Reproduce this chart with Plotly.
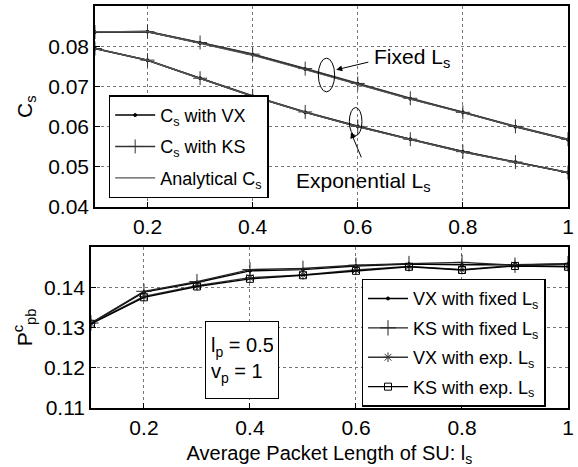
import plotly.graph_objects as go

# ---------------- data ----------------
ls = [0.1, 0.2, 0.3, 0.4, 0.5, 0.6, 0.7, 0.8, 0.9, 1.0]

# top panel: C_s
cs_vx_fixed = [0.0836, 0.0837, 0.0809, 0.0780, 0.0744, 0.0707, 0.0670, 0.0636, 0.0600, 0.0568]
cs_ks_fixed = [0.0836, 0.0837, 0.0810, 0.0781, 0.0745, 0.0708, 0.0671, 0.0636, 0.0601, 0.0569]
cs_an_fixed = [0.0837, 0.0837, 0.0808, 0.0778, 0.0742, 0.0706, 0.0669, 0.0635, 0.0600, 0.0568]
cs_vx_exp = [0.0795, 0.0766, 0.0721, 0.0676, 0.0636, 0.0601, 0.0569, 0.0538, 0.0512, 0.0486]
cs_ks_exp = [0.0795, 0.0766, 0.0721, 0.0677, 0.0637, 0.0601, 0.0569, 0.0538, 0.0512, 0.0486]
cs_an_exp = [0.0795, 0.0766, 0.0720, 0.0676, 0.0636, 0.0600, 0.0568, 0.0537, 0.0511, 0.0486]

# bottom panel: P^c_pb
p_vx_fixed = [0.1310, 0.1388, 0.1412, 0.1441, 0.1444, 0.1453, 0.1458, 0.1456, 0.1456, 0.1458]
p_ks_fixed = [0.1311, 0.1390, 0.1414, 0.1444, 0.1447, 0.1455, 0.1459, 0.1462, 0.1455, 0.1459]
p_vx_exp = [0.1310, 0.1377, 0.1404, 0.1424, 0.1431, 0.1443, 0.1452, 0.1444, 0.1455, 0.1452]
p_ks_exp = [0.1309, 0.1375, 0.1402, 0.1421, 0.1430, 0.1441, 0.1451, 0.1443, 0.1453, 0.1451]

x_tickvals = [0.2, 0.4, 0.6, 0.8, 1.0]
x_ticktext = ["0.2", "0.4", "0.6", "0.8", "1"]
top_tickvals = [0.04, 0.05, 0.06, 0.07, 0.08]
bot_tickvals = [0.11, 0.12, 0.13, 0.14]

FONT = "Liberation Sans, Arial, sans-serif"
TICK = 21

fig = go.Figure()

def add(x, y, name, xa, ya, legend, symbol=None, size=6, color="black", width=1.5,
        show=True, mlw=1, group=None):
    mode = "lines+markers" if symbol else "lines"
    marker = dict(symbol=symbol, size=size, color=color,
                  line=dict(color=color, width=mlw)) if symbol else None
    fig.add_trace(go.Scatter(x=x, y=y, name=name, mode=mode, xaxis=xa, yaxis=ya,
                             line=dict(color=color, width=width), marker=marker,
                             legend=legend, showlegend=show, legendgroup=group))

# top
add(ls, cs_vx_fixed, "C<sub>s</sub> with VX", "x", "y", "legend", "circle", 3, "black", 1.6, group="a")
add(ls, cs_ks_fixed, "C<sub>s</sub> with KS", "x", "y", "legend", "cross-thin", 10, "#333333", 1.6, group="b")
add(ls, cs_an_fixed, "Analytical C<sub>s</sub>", "x", "y", "legend", None, color="#555555", width=1.2, group="c")
add(ls, cs_vx_exp, "", "x", "y", "legend", "circle", 3, "black", 1.6, show=False, group="a")
add(ls, cs_ks_exp, "", "x", "y", "legend", "cross-thin", 10, "#333333", 1.6, show=False, group="b")
add(ls, cs_an_exp, "", "x", "y", "legend", None, color="#555555", width=1.2, show=False, group="c")

# bottom
add(ls, p_vx_fixed, "VX with fixed L<sub>s</sub>", "x2", "y2", "legend2", "circle", 3, "black", 1.4, group="d")
add(ls, p_ks_fixed, "KS with fixed L<sub>s</sub>", "x2", "y2", "legend2", "cross-thin", 11, "#222222", 1.4, group="e")
add(ls, p_vx_exp, "VX with exp. L<sub>s</sub>", "x2", "y2", "legend2", "asterisk-open", 8, "#333333", 1.4, group="f")
add(ls, p_ks_exp, "KS with exp. L<sub>s</sub>", "x2", "y2", "legend2", "square-open", 7, "black", 1.4, group="g")

axis_common = dict(showline=True, linecolor="black", linewidth=1.5, mirror=True,
                   ticks="inside", ticklen=5, tickcolor="black",
                   showgrid=True, gridcolor="#777777", griddash="dot", gridwidth=1,
                   zeroline=False, ticklabeloverflow="allow",
                   tickfont=dict(size=TICK, color="black", family=FONT))

fig.update_layout(
    width=578, height=467,
    margin=dict(l=0, r=0, t=0, b=0),
    paper_bgcolor="white", plot_bgcolor="white",
    font=dict(family=FONT, color="black", size=TICK),
    xaxis=dict(domain=[0.166, 0.993], range=[0.1, 1.0], anchor="y",
               tickvals=x_tickvals, ticktext=x_ticktext, **axis_common),
    yaxis=dict(domain=[0.546, 0.986], range=[0.04, 0.09], anchor="x",
               tickvals=top_tickvals, tickformat=".2f", **axis_common,
               title=dict(text="C<sub>s</sub>", standoff=10, font=dict(size=21))),
    xaxis2=dict(domain=[0.159, 0.993], range=[0.1, 1.0], anchor="y2",
                tickvals=x_tickvals, ticktext=x_ticktext, **axis_common,
                title=dict(text="Average Packet Length of SU: l<sub>s</sub>", standoff=9,
                           font=dict(size=20))),
    yaxis2=dict(domain=[0.106, 0.458], range=[0.11, 0.15], anchor="x2",
                tickvals=bot_tickvals, tickformat=".2f", **axis_common,
                title=dict(text="P<sup>c</sup><sub>pb</sub>", standoff=6, font=dict(size=21))),
    legend=dict(x=0.19, y=0.565, xanchor="left", yanchor="bottom",
                bordercolor="black", borderwidth=1.5, bgcolor="white",
                traceorder="grouped", tracegroupgap=5,
                font=dict(size=18, family=FONT), itemwidth=40),
    legend2=dict(x=0.632, y=0.108, xanchor="left", yanchor="bottom",
                 bordercolor="black", borderwidth=1.5, bgcolor="white",
                 traceorder="grouped", tracegroupgap=3,
                 font=dict(size=18, family=FONT), itemwidth=40),
)

# ellipses
fig.add_shape(type="circle", xref="x", yref="y", x0=0.525, x1=0.556, y0=0.0687, y1=0.0771,
              line=dict(color="black", width=1))
fig.add_shape(type="circle", xref="x", yref="y", x0=0.584, x1=0.608, y0=0.0578, y1=0.0648,
              line=dict(color="black", width=1))

# arrows
fig.add_annotation(xref="x", yref="y", x=0.559, y=0.0742, ax=0.623, ay=0.0762,
                   axref="x", ayref="y", showarrow=True, arrowhead=2, arrowsize=1.2,
                   arrowwidth=1, arrowcolor="black", text="")
fig.add_annotation(xref="x", yref="y", x=0.587, y=0.0586, ax=0.608, ay=0.0520,
                   axref="x", ayref="y", showarrow=True, arrowhead=2, arrowsize=1.2,
                   arrowwidth=1, arrowcolor="black", text="")
fig.add_annotation(xref="x", yref="y", x=0.628, y=0.0772, xanchor="left", yanchor="middle",
                   text="Fixed L<sub>s</sub>", showarrow=False, font=dict(size=21))
fig.add_annotation(xref="x", yref="y", x=0.61, y=0.0463, xanchor="center", yanchor="middle",
                   text="Exponential L<sub>s</sub>", showarrow=False, font=dict(size=21))

# parameter box
fig.add_annotation(xref="x2", yref="y2", x=0.316, y=0.1315, xanchor="left", yanchor="top",
                   text="l<sub>p</sub> = 0.5<br>v<sub>p</sub> = 1", showarrow=False, align="left",
                   width=62, height=66, font=dict(size=20), bordercolor="black",
                   borderwidth=1, borderpad=5, bgcolor="white")

fig.write_html("out.html")
